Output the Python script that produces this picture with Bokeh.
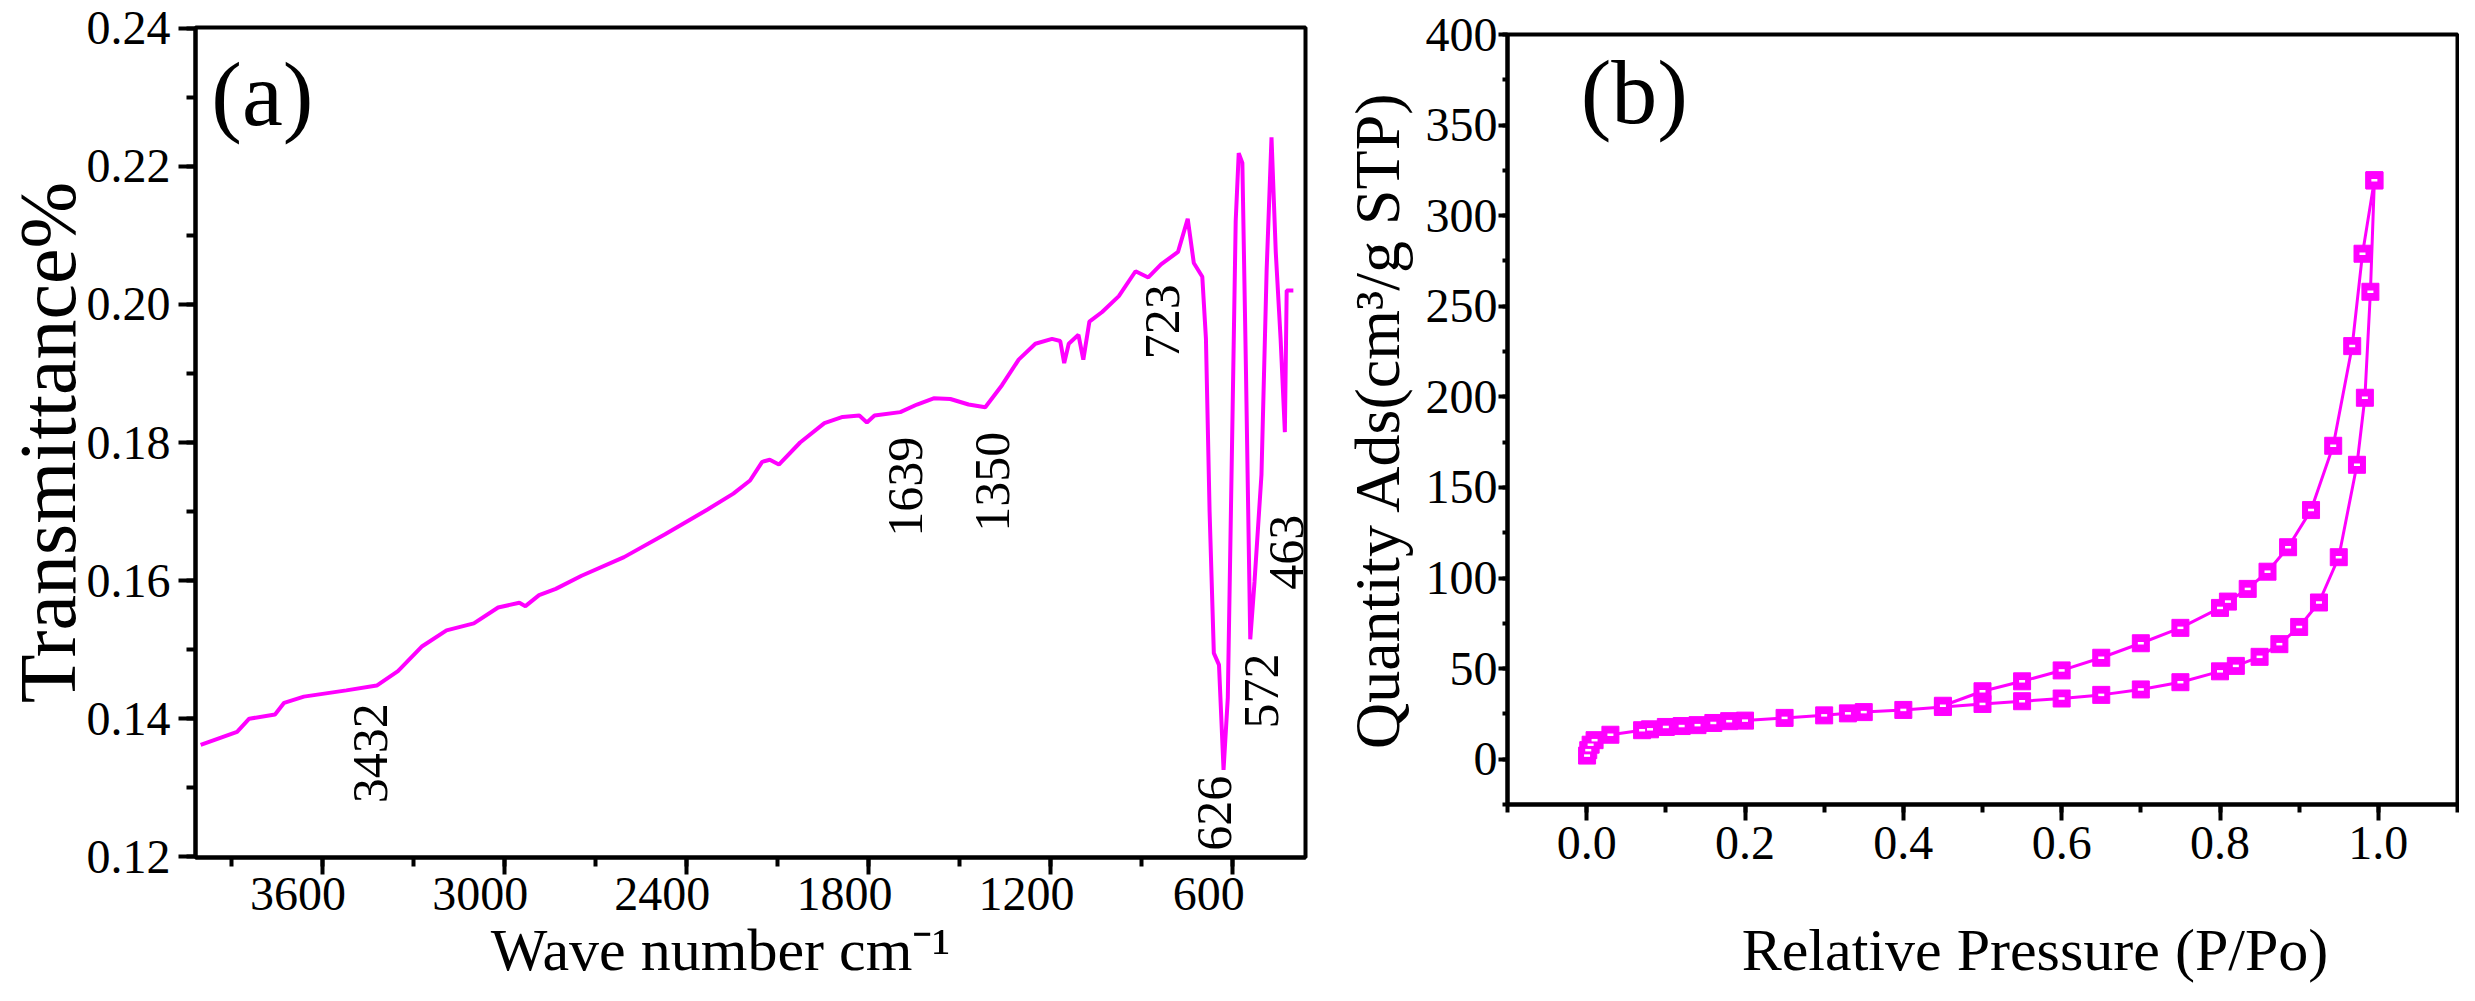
import numpy as np
from bokeh.plotting import figure
from bokeh.layouts import row, column
from bokeh.models import Range1d, SingleIntervalTicker, PrintfTickFormatter, Label, Spacer
from bokeh.embed import file_html
from bokeh.resources import INLINE
from bokeh.core.properties import value

# ---------------- data: (a) FTIR spectrum ----------------
wavenumber = [4000, 3880, 3840, 3755, 3725, 3660, 3520, 3420, 3350, 3270, 3190, 3100,
              3020, 2950, 2930, 2885, 2830, 2745, 2605, 2470, 2330, 2245, 2190, 2150,
              2125, 2095, 2025, 1945, 1885, 1830, 1805, 1780, 1695, 1640, 1585, 1530,
              1470, 1415, 1360, 1305, 1250, 1195, 1168, 1155, 1140, 1108, 1092, 1072,
              1030, 975, 920, 878, 836, 780, 748, 728, 700, 688, 676, 662, 645, 630,
              616, 600, 590, 580, 568, 556, 542, 528, 505, 488, 472, 458, 442, 428,
              422, 400]
transmittance = [0.1362, 0.1381, 0.1400, 0.1406, 0.1423, 0.1432, 0.1441, 0.1448, 0.1469,
                 0.1505, 0.1528, 0.1538, 0.1561, 0.1568, 0.1563, 0.1579, 0.1588, 0.1607,
                 0.1634, 0.1667, 0.1703, 0.1726, 0.1745, 0.1772, 0.1775, 0.1768, 0.1800,
                 0.1828, 0.1837, 0.1839, 0.1829, 0.1839, 0.1844, 0.1855, 0.1864, 0.1863,
                 0.1855, 0.1851, 0.1883, 0.1920, 0.1943, 0.1950, 0.1947, 0.1915, 0.1943,
                 0.1956, 0.1920, 0.1975, 0.1989, 0.2012, 0.2048, 0.2039, 0.2058, 0.2076,
                 0.2124, 0.2060, 0.2040, 0.1950, 0.1700, 0.1495, 0.1478, 0.1326, 0.1430,
                 0.1850, 0.2120, 0.2219, 0.2205, 0.1900, 0.1515, 0.1598, 0.1754, 0.2050,
                 0.2242, 0.2076, 0.1950, 0.1815, 0.2020, 0.2020]

peak_labels = ["3432", "1639", "1350", "723", "626", "572", "463"]
peak_label_x = [3439, 1678, 1392, 830, 659, 504, 422]
peak_label_y = [0.1350, 0.1736, 0.1743, 0.1975, 0.1263, 0.1440, 0.1641]

# ---------------- data: (b) N2 isotherm ----------------
p_ads = [0.0005, 0.002, 0.005, 0.01, 0.03, 0.07, 0.08, 0.10, 0.12, 0.14, 0.16, 0.18,
         0.20, 0.25, 0.30, 0.33, 0.35, 0.40, 0.45, 0.50, 0.55, 0.60, 0.65, 0.70, 0.75,
         0.80, 0.82, 0.85, 0.875, 0.90, 0.925, 0.95, 0.973, 0.983, 0.99, 0.995]
q_ads = [2, 5, 8, 10.5, 13.5, 16, 16.5, 17.8, 18.3, 18.8, 20, 21, 21.3, 22.8, 24.2,
         25.3, 26, 27.2, 28.8, 30.5, 32, 33.5, 35.5, 38.5, 42.5, 48.5, 51.5, 56.5,
         63.5, 73, 86.5, 111.5, 162.5, 199.5, 258, 319.5]
p_des = [0.995, 0.98, 0.967, 0.943, 0.915, 0.886, 0.86, 0.835, 0.81, 0.80, 0.75, 0.70,
         0.65, 0.60, 0.55, 0.50, 0.45]
q_des = [319.5, 279, 228, 173, 137.5, 117, 103.5, 94, 87, 83.5, 72.5, 64, 56, 49,
         43, 37.5, 29.5]

FONT = "Liberation Serif"
MAG = "#FF00FF"
NB = "\u00a0"


def style_axis(ax, tick_size, major_out, minor_out, standoff, title_size, title_standoff):
    ax.axis_line_width = 4
    ax.axis_line_color = "black"
    ax.major_tick_line_width = 4
    ax.minor_tick_line_width = 4
    ax.major_tick_in = 0
    ax.minor_tick_in = 0
    ax.major_tick_out = major_out
    ax.minor_tick_out = minor_out
    ax.major_label_text_font = FONT
    ax.major_label_text_font_size = tick_size
    ax.major_label_text_color = "black"
    ax.major_label_standoff = standoff
    ax.axis_label_text_font = FONT
    ax.axis_label_text_font_style = "normal"
    ax.axis_label_text_font_size = title_size
    ax.axis_label_text_color = "black"
    ax.axis_label_standoff = title_standoff


def base_fig(width, height, xr, yr, left, right, top, bottom):
    p = figure(width=width, height=height, output_backend="svg", toolbar_location=None,
               x_range=xr, y_range=yr, min_border_left=left, min_border_right=right,
               min_border_top=top, min_border_bottom=bottom)
    p.xgrid.visible = False
    p.ygrid.visible = False
    p.outline_line_color = "black"
    p.outline_line_width = 4
    p.outline_line_alpha = 1
    p.background_fill_color = "white"
    p.border_fill_color = "white"
    return p


# ---------------- panel (a) ----------------
pa = base_fig(1322, 985, Range1d(4017, 360), Range1d(0.1199, 0.2401), 192, 17, 27, 128)
pa.xaxis.ticker = SingleIntervalTicker(interval=600, num_minor_ticks=2)
pa.yaxis.ticker = SingleIntervalTicker(interval=0.02, num_minor_ticks=2)
pa.yaxis.formatter = PrintfTickFormatter(format="%.2f")
pa.xaxis.formatter = PrintfTickFormatter(format="%d" + NB * 4)
pa.xaxis.axis_label = "Wave number cm\u207b\u00b9" + NB * 4
pa.yaxis.axis_label = "Transmittance%"
style_axis(pa.xaxis[0], "48px", 17, 9, -8, "60px", -6)
style_axis(pa.yaxis[0], "48px", 17, 9, 8, "80px", -8)

pa.line(wavenumber, transmittance, line_color=MAG, line_width=4)
pa.text(x=peak_label_x, y=peak_label_y, text=peak_labels, angle=np.pi / 2,
        text_font=value(FONT), text_font_size="50px", text_align="center",
        text_baseline="middle", text_color="black")
pa.add_layout(Label(x=3965, y=0.2305, text="(a)", text_font=FONT, text_font_size="92px",
                    text_align="left", text_baseline="middle", text_color="black"))

# ---------------- panel (b) ----------------
pb = base_fig(1137, 984, Range1d(-0.1, 1.1), Range1d(-25, 400), 185, 2, 33, 181)
pb.xaxis.ticker = SingleIntervalTicker(interval=0.2, num_minor_ticks=2)
pb.yaxis.ticker = SingleIntervalTicker(interval=50, num_minor_ticks=2)
pb.xaxis.formatter = PrintfTickFormatter(format="%.1f")
pb.xaxis.axis_label = NB * 7 + "Relative Pressure (P/Po)"
pb.yaxis.axis_label = "Quantity Ads(cm\u00b3/g STP)"
style_axis(pb.xaxis[0], "48px", 16, 8, 6, "60px", 55)
style_axis(pb.yaxis[0], "48px", 9, 5, 1, "64px", 10)

for px_, qy_ in ((p_ads, q_ads), (p_des, q_des)):
    pb.line(px_, qy_, line_color=MAG, line_width=3)
    pb.scatter(px_, qy_, marker="square", size=17, fill_color=MAG, line_color=MAG,
               line_width=1)
    pb.scatter(px_, qy_, marker="dash", size=6, line_color="white", line_width=2.5)

pb.add_layout(Label(x=-0.0075, y=368, text="(b)", text_font=FONT, text_font_size="92px",
                    text_align="left", text_baseline="middle", text_color="black"))

layout = row(pa, column(Spacer(width=1137, height=1), pb))
open("out.html", "w").write(file_html(layout, INLINE))
